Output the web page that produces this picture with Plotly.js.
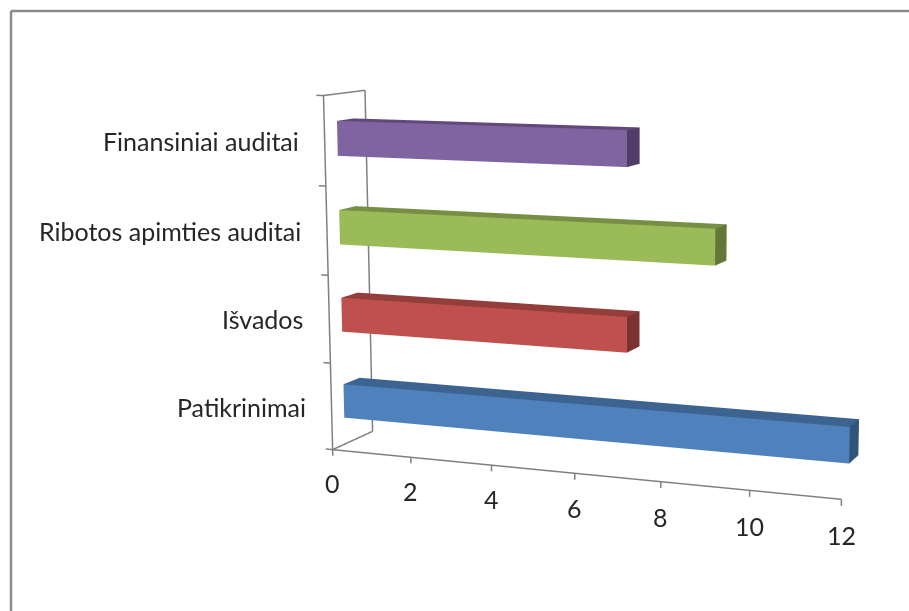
<!DOCTYPE html>
<html><head><meta charset="utf-8">
<script src="https://cdn.plot.ly/plotly-3.0.1.min.js"></script>
<style>
html,body{margin:0;background:#fff;overflow:hidden}
#frame{position:relative;width:909px;height:611px;overflow:hidden}
/* The scene is drawn on a taller canvas so the 45-degree lens behaves like a long one */
#chart{position:absolute;left:2px;top:-523px;width:1250px;height:1656px}
</style>
</head><body><div id="frame"><div id="chart"></div></div>
<script>
// Chart data
const categories = ["Patikrinimai", "Išvados", "Ribotos apimties auditai", "Finansiniai auditai"];
const values = [12, 7, 9, 7];
const valueTicks = [0, 2, 4, 6, 8, 10, 12];

// Bar face colours, one per category
const frontColors = ["#4F81BD", "#C0504D", "#9BBB59", "#8064A2"];
const topColors = ["#3D6391", "#943E3B", "#778F44", "#62497C"];
const sideColors = ["#335377", "#7B3331", "#647738", "#523D68"];

// Canvas size and its offset inside the visible frame
const CW = 1250, CH = 1656, LEFT = 2, TOP = -523;
const paperX = x => (x - LEFT) / CW;
const paperY = y => 1 - (y - TOP) / CH;

// Bar extents inside each category slot and across the depth of the box
const DEPTH = [0.30, 0.70], SLOT = [0.31, 0.70];

function bar(value, c) {
  const [y0, y1] = DEPTH, z0 = c + SLOT[0], z1 = c + SLOT[1];
  return {
    type: 'mesh3d',
    x: [0, value, value, 0, 0, value, value, 0],
    y: [y0, y0, y1, y1, y0, y0, y1, y1],
    z: [z0, z0, z0, z0, z1, z1, z1, z1],
    i: [0, 0, 4, 4, 1, 1],
    j: [1, 5, 5, 6, 2, 6],
    k: [5, 4, 6, 7, 6, 5],
    facecolor: [frontColors[c], frontColors[c], topColors[c], topColors[c], sideColors[c], sideColors[c]],
    flatshading: true,
    hoverinfo: 'skip',
    showscale: false,
    lighting: {ambient: 1, diffuse: 0, specular: 0, roughness: 1, fresnel: 0}
  };
}

// Axis frame and tick marks as one broken line
const lx = [], ly = [], lz = [];
const seg = (a, b) => { lx.push(a[0], b[0], null); ly.push(a[1], b[1], null); lz.push(a[2], b[2], null); };
const maxValue = valueTicks[valueTicks.length - 1], nCat = categories.length;
seg([0, 0, 0], [maxValue, 0, 0]);
seg([0, 0, 0], [0, 0, nCat]);
seg([0, 1, 0], [0, 1, nCat]);
seg([0, 0, 0], [0, 1, 0]);
seg([0, 0, nCat], [0, 1, nCat]);
valueTicks.forEach(v => seg([v, 0, 0], [v, 0, -0.07]));
for (let c = 0; c <= nCat; c++) seg([0, 0, c], [-0.18, 0, c]);

const traces = values.map((v, c) => bar(v, c));
traces.push({type: 'scatter3d', mode: 'lines', x: lx, y: ly, z: lz,
  line: {color: '#808080', width: 3}, hoverinfo: 'skip', showlegend: false});

const font = {family: 'Lato, Carlito, sans-serif', size: 25, color: '#262626'};
const annotations = categories.map((t, c) => ({
    x: 0, y: 0, z: c + 0.5, text: t, showarrow: false,
    xanchor: 'right', yanchor: 'middle', xshift: -24, font
  })).concat(valueTicks.map(v => ({
    x: v, y: 0, z: 0, text: String(v), showarrow: false,
    xanchor: 'center', yanchor: 'middle', yshift: -(33 + v / 4), font
  })));

const border = {color: '#8c8c8c', width: 2.5};
const hidden = {visible: false};

Plotly.newPlot('chart', traces, {
  width: CW, height: CH,
  margin: {l: 0, r: 0, t: 0, b: 0},
  paper_bgcolor: '#fff',
  showlegend: false,
  shapes: [
    {type: 'line', xref: 'paper', yref: 'paper', x0: paperX(11), x1: paperX(909), y0: paperY(11), y1: paperY(11), line: border},
    {type: 'line', xref: 'paper', yref: 'paper', x0: paperX(11), x1: paperX(11), y0: paperY(11), y1: paperY(611), line: border}
  ],
  scene: {
    domain: {x: [0, 1], y: [0, 1]},
    aspectmode: 'manual',
    aspectratio: {x: 1.754, y: 0.2785, z: 1.1252},
    annotations,
    camera: {
      eye: {x: 2.082, y: -5.2637, z: 0.9388},
      center: {x: 0.149, y: -0.2006, z: 0.0027},
      up: {x: 0, y: 0, z: 1},
      projection: {type: 'perspective'}
    },
    xaxis: Object.assign({range: [-0.4, 13]}, hidden),
    yaxis: Object.assign({range: [-0.05, 1.05]}, hidden),
    zaxis: Object.assign({range: [-0.2, 4.05]}, hidden)
  }
}, {displayModeBar: false});
</script></body></html>
